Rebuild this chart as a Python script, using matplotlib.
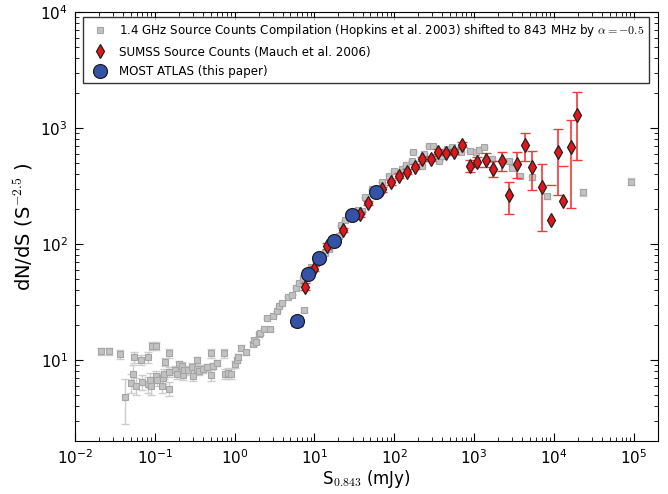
import matplotlib
matplotlib.use("Agg")
import matplotlib.pyplot as plt

plt.rcParams['mathtext.fontset'] = 'cm'
plt.rcParams['font.family'] = 'DejaVu Sans'

# Hopkins et al. 2003 compilation (shifted to 843 MHz)
hop_s = [0.021, 0.027, 0.037, 0.042, 0.050, 0.053, 0.055, 0.058, 0.067, 0.069,
         0.082, 0.082, 0.087, 0.089, 0.092, 0.103, 0.103, 0.106, 0.122, 0.126,
         0.130, 0.133, 0.150, 0.150, 0.150, 0.178, 0.188, 0.200, 0.217, 0.224,
         0.230, 0.259, 0.290, 0.299, 0.335, 0.335, 0.355, 0.398, 0.447, 0.501,
         0.501, 0.531, 0.596, 0.729, 0.750, 0.818, 0.891, 1.00, 1.06, 1.12,
         1.19, 1.41, 1.68, 1.73, 1.88, 2.00, 2.11, 2.37, 2.58, 2.74,
         2.99, 3.35, 3.65, 3.98, 4.60, 5.31, 5.96, 6.49, 7.29, 7.50,
         8.66, 9.17, 10.6, 11.9, 13.7, 15.4, 18.3, 20.5, 21.8, 24.4,
         29.9, 35.5, 39.8, 43.4, 53.1, 70.8, 86.6, 100, 126, 141,
         168, 173, 224, 237, 274, 307, 325, 365, 398, 460,
         531, 613, 688, 891, 1060, 1155, 1334, 1679, 2738, 2985,
         3758, 5309, 8177, 23040, 91700]
hop_n = [11.9, 11.9, 11.2, 4.8, 6.4, 7.6, 10.6, 6.0, 10.0, 6.5,
         6.2, 10.6, 6.75, 6.0, 13.2, 13.2, 7.3, 6.75, 6.0, 7.0,
         7.6, 9.6, 5.65, 11.5, 7.9, 8.2, 7.6, 9.2, 8.9, 7.4,
         8.2, 8.2, 8.7, 7.3, 10.0, 8.4, 8.05, 8.4, 8.7, 11.5,
         7.4, 8.9, 9.4, 11.5, 7.6, 7.7, 7.6, 9.2, 10.0, 10.6,
         12.7, 11.7, 13.7, 14.8, 14.3, 16.7, 17.0, 18.4, 22.9, 18.4,
         23.8, 26.2, 29.0, 31.3, 35.2, 36.6, 42.1, 46.4, 51.2, 26.8,
         57.7, 63.6, 68.8, 75.9, 83.8, 90.6, 106, 117, 145, 160,
         167, 195, 191, 252, 295, 339, 389, 429, 446, 483,
         522, 624, 473, 600, 702, 702, 565, 522, 577, 662,
         689, 636, 624, 636, 624, 649, 689, 543, 522, 455,
         389, 374, 257, 278, 345]
hop_err = [0.9, 0.9, 0.9, 2.0, 1.2, 1.4, 1.2, 1.0, 1.0, 1.0,
           1.0, 1.2, 1.0, 1.0, 1.0, 1.0, 0.8, 0.8, 0.8, 0.8,
           0.8, 0.8, 0.8, 1.0, 0.8, 0.7, 0.7, 0.7, 0.7, 0.7,
           0.7, 0.7, 0.7, 0.7, 0.7, 0.6, 0.6, 0.6, 0.6, 1.0,
           0.8, 0.6, 0.6, 1.0, 0.8, 0.8, 0.8, 0.6, 0.6, 0.6,
           0.8, 0.6, 0.6, 0.6, 0.5, 0.5, 0.5, 0.5, 0.5, 0.5,
           0.5, 0.5, 0.5, 0.6, 0.6, 0.6, 0.7, 0.8, 1.0, 1.0,
           1.0, 1.0, 1.2, 1.2, 1.3, 1.5, 2, 2, 2, 2,
           3, 3, 3, 4, 4, 5, 5, 6, 6, 6,
           7, 8, 8, 8, 10, 10, 8, 8, 8, 10,
           10, 10, 10, 10, 10, 10, 12, 12, 15, 15,
           15, 15, 15, 20, 25]

# SUMSS source counts (Mauch et al. 2006)
sumss_s = [7.72, 10.0, 14.5, 23.0, 37.6, 47.3, 70.8, 91.7, 115, 145,
           183, 224, 290, 355, 447, 562, 708, 891, 1090, 1413,
           1728, 2239, 2738, 3447, 4340, 5309, 7079, 9173, 11220, 12960,
           16310, 19390]
sumss_n = [42.9, 61.1, 96.2, 132, 180, 224, 295, 339, 389, 421,
           464, 543, 543, 624, 611, 624, 716, 473, 512, 533,
           446, 522, 262, 492, 716, 464, 307, 160, 624, 233,
           689, 1291]
sumss_err = [3, 3, 5, 6, 8, 9, 12, 14, 16, 18,
             20, 24, 26, 30, 30, 32, 36, 52, 55, 70,
             70, 95, 80, 125, 195, 173, 177, 162, 358, 235,
             483, 757]

# MOST ATLAS (this paper)
atlas_s = [6.1, 8.4, 11.5, 17.8, 29.9, 59.6]
atlas_n = [21.5, 55.5, 76, 106, 177, 278]
atlas_err = [1.9, 4.0, 5.0, 7.0, 12, 20]

fig, ax = plt.subplots(figsize=(6.68, 4.94), dpi=100)
fig.subplots_adjust(left=0.112, right=0.985, bottom=0.107, top=0.976)
ax.set_xscale('log')
ax.set_yscale('log', nonpositive='mask')

ax.errorbar(hop_s, hop_n, yerr=hop_err, fmt='none', ecolor='#cccccc',
            elinewidth=1, capsize=3, zorder=1)
ax.plot(hop_s, hop_n, 's', ms=5, mfc='#c2c2c2', mec='#a5a5a5', mew=0.8,
        zorder=2,
        label='1.4 GHz Source Counts Compilation (Hopkins et al. 2003) '
              r'shifted to 843 MHz by $\alpha=-0.5$')

ax.errorbar(sumss_s, sumss_n, yerr=sumss_err, fmt='none', ecolor='#f03a3a',
            elinewidth=1.2, capsize=3.5, zorder=3)
ax.plot(sumss_s, sumss_n, 'd', ms=7, mfc='#e3161c', mec='#222222', mew=0.9,
        zorder=4, label='SUMSS Source Counts (Mauch et al. 2006)')

ax.errorbar(atlas_s, atlas_n, yerr=atlas_err, fmt='none', ecolor='#3050c0',
            elinewidth=1.2, capsize=4, zorder=5)
ax.plot(atlas_s, atlas_n, 'o', ms=10, mfc='#3553a6', mec='#1c1c2c', mew=0.9,
        zorder=6, label='MOST ATLAS (this paper)')

ax.set_xlim(0.01, 2e5)
ax.set_ylim(2, 1e4)
ax.set_xlabel(r'S$_{0.843}$ (mJy)', fontsize=12, labelpad=1)
ax.set_ylabel(r'dN/dS (S$^{-2.5}$ )', fontsize=14, labelpad=4)
ax.tick_params(which='both', direction='in', top=True, right=True, labelsize=11)
ax.tick_params(which='major', length=6, pad=5)
ax.tick_params(which='minor', length=3)

leg = ax.legend(loc='upper center', numpoints=1, fontsize=8.6, fancybox=False,
                borderaxespad=0.45, handletextpad=0.6, labelspacing=0.55)
leg.get_frame().set_edgecolor('black')
leg.get_frame().set_linewidth(1.0)

fig.savefig('out.png', dpi=100)
